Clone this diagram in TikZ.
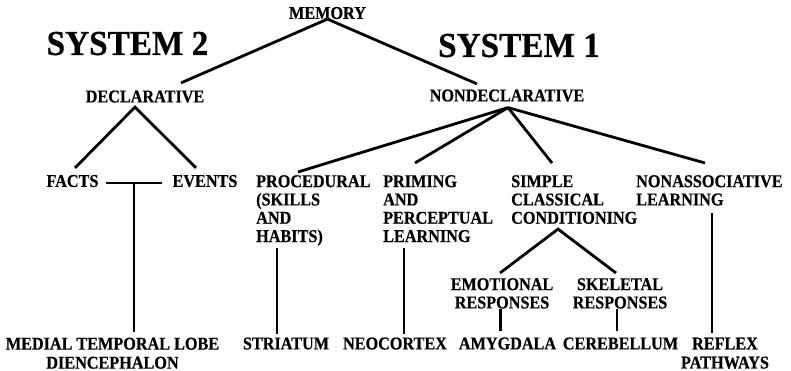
\documentclass[tikz,border=0pt]{standalone}
\usepackage{fontspec}
\usetikzlibrary{calc}
\newfontfamily\lblfont[FakeStretch=0.9, FakeBold=0.5]{Liberation Serif}
\newfontfamily\headfont[FakeStretch=0.95, FakeBold=0.5]{Liberation Serif}
\tikzset{
  lbl/.style={font=\lblfont\bfseries\fontsize{18pt}{18.3pt}\selectfont, inner sep=0pt},
  one/.style={lbl, text height=11.8pt, text depth=0pt},
  multi/.style={lbl, align=left, anchor=north west},
  multic/.style={lbl, align=center, anchor=north},
  head/.style={font=\headfont\bfseries\fontsize{35pt}{36pt}\selectfont, inner sep=0pt, text height=22.9pt, text depth=0pt},
  link/.style={line width=2.8pt}
}
\begin{document}
\begin{tikzpicture}[x=1pt, y=-1pt]
\useasboundingbox (0,0) rectangle (791,371);

% headings
\node[one] (mem) at (327.5,13) {MEMORY};
\node[head] (sys2) at (127.5,43.5) {SYSTEM 2};
\node[head] (sys1) at (519,45.5) {SYSTEM 1};

% second level
\node[one] (decl) at (145,96.5) {DECLARATIVE};
\node[one] (nondecl) at (507,95.5) {NONDECLARATIVE};

% third level
\node[one] (facts) at (72.5,181) {FACTS};
\node[one] (events) at (205,181) {EVENTS};
\node[multi] (proc) at (256,175) {PROCEDURAL\\(SKILLS\\AND\\HABITS)};
\node[multi] (prim) at (383,175) {PRIMING\\AND\\PERCEPTUAL\\LEARNING};
\node[multi] (simple) at (511,175) {SIMPLE\\CLASSICAL\\CONDITIONING};
\node[multi] (nonassoc) at (636,175) {NONASSOCIATIVE\\LEARNING};

% responses
\node[multic] (emo) at (502,278) {EMOTIONAL\\RESPONSES};
\node[multic] (skel) at (620,278) {SKELETAL\\RESPONSES};

% brain structures
\node[multic] (mtl) at (112.5,337.5) {MEDIAL TEMPORAL LOBE\\[0.7pt]DIENCEPHALON};
\node[one] (stria) at (286,343.5) {STRIATUM};
\node[one] (neo) at (395,343.5) {NEOCORTEX};
\node[one] (amyg) at (507.5,343.5) {AMYGDALA};
\node[one] (cereb) at (620.5,343.5) {CEREBELLUM};
\node[multic] (reflex) at (725,337.5) {REFLEX\\[0.7pt]PATHWAYS};

% memory split
\draw[link] (mem.south) -- ($(decl.north)+(36,-7.5)$);
\draw[link] (mem.south) -- ($(nondecl.north)+(-30,-5.5)$);

% declarative branch
\draw[link] ($(facts.north)+(2.5,-7)$) -- ($(decl.south)+(-10,4.5)$) -- ($(events.north)+(-9,-7)$);
\draw[link] ($(facts.east)+(7,2)$) -- coordinate[pos=0.5] (fe) ($(events.west)+(-10,2)$);
\draw[link] (fe) -- ($(fe |- mtl.north)+(0,-6)$);

% nondeclarative branch
\coordinate (nd) at ($(nondecl.south)+(1,6)$);
\draw[link] (nd) -- ($(proc.north west)+(42,-3)$);
\draw[link] (nd) -- ($(prim.north west)+(32,-12)$);
\draw[link] (nd) -- ($(simple.north west)+(41,-12)$);
\draw[link] (nd) -- ($(nonassoc.north west)+(69,-12)$);

% down to structures
\draw[link] ($(stria.north)+(-9,-3)$) -- ($(stria.north |- proc.south)+(-9,2)$);
\draw[link] ($(neo.north)+(9,-3)$) -- ($(neo.north |- prim.south)+(9,6)$);
\draw[link] ($(reflex.north)+(-13,-5)$) -- ($(reflex.north |- nonassoc.south)+(-13,7)$);

% conditioning branch
\draw[link] ($(emo.north)+(-2,-5)$) -- ($(simple.south west)+(47,5)$) -- ($(skel.north)+(-4,-5)$);
\draw[link] ($(amyg.north)+(-7,-6)$) -- ($(amyg.north |- emo.south)+(-7,0)$);
\draw[link] ($(cereb.north)+(-3.5,-6)$) -- ($(cereb.north |- skel.south)+(-3.5,0)$);
\end{tikzpicture}
\end{document}
